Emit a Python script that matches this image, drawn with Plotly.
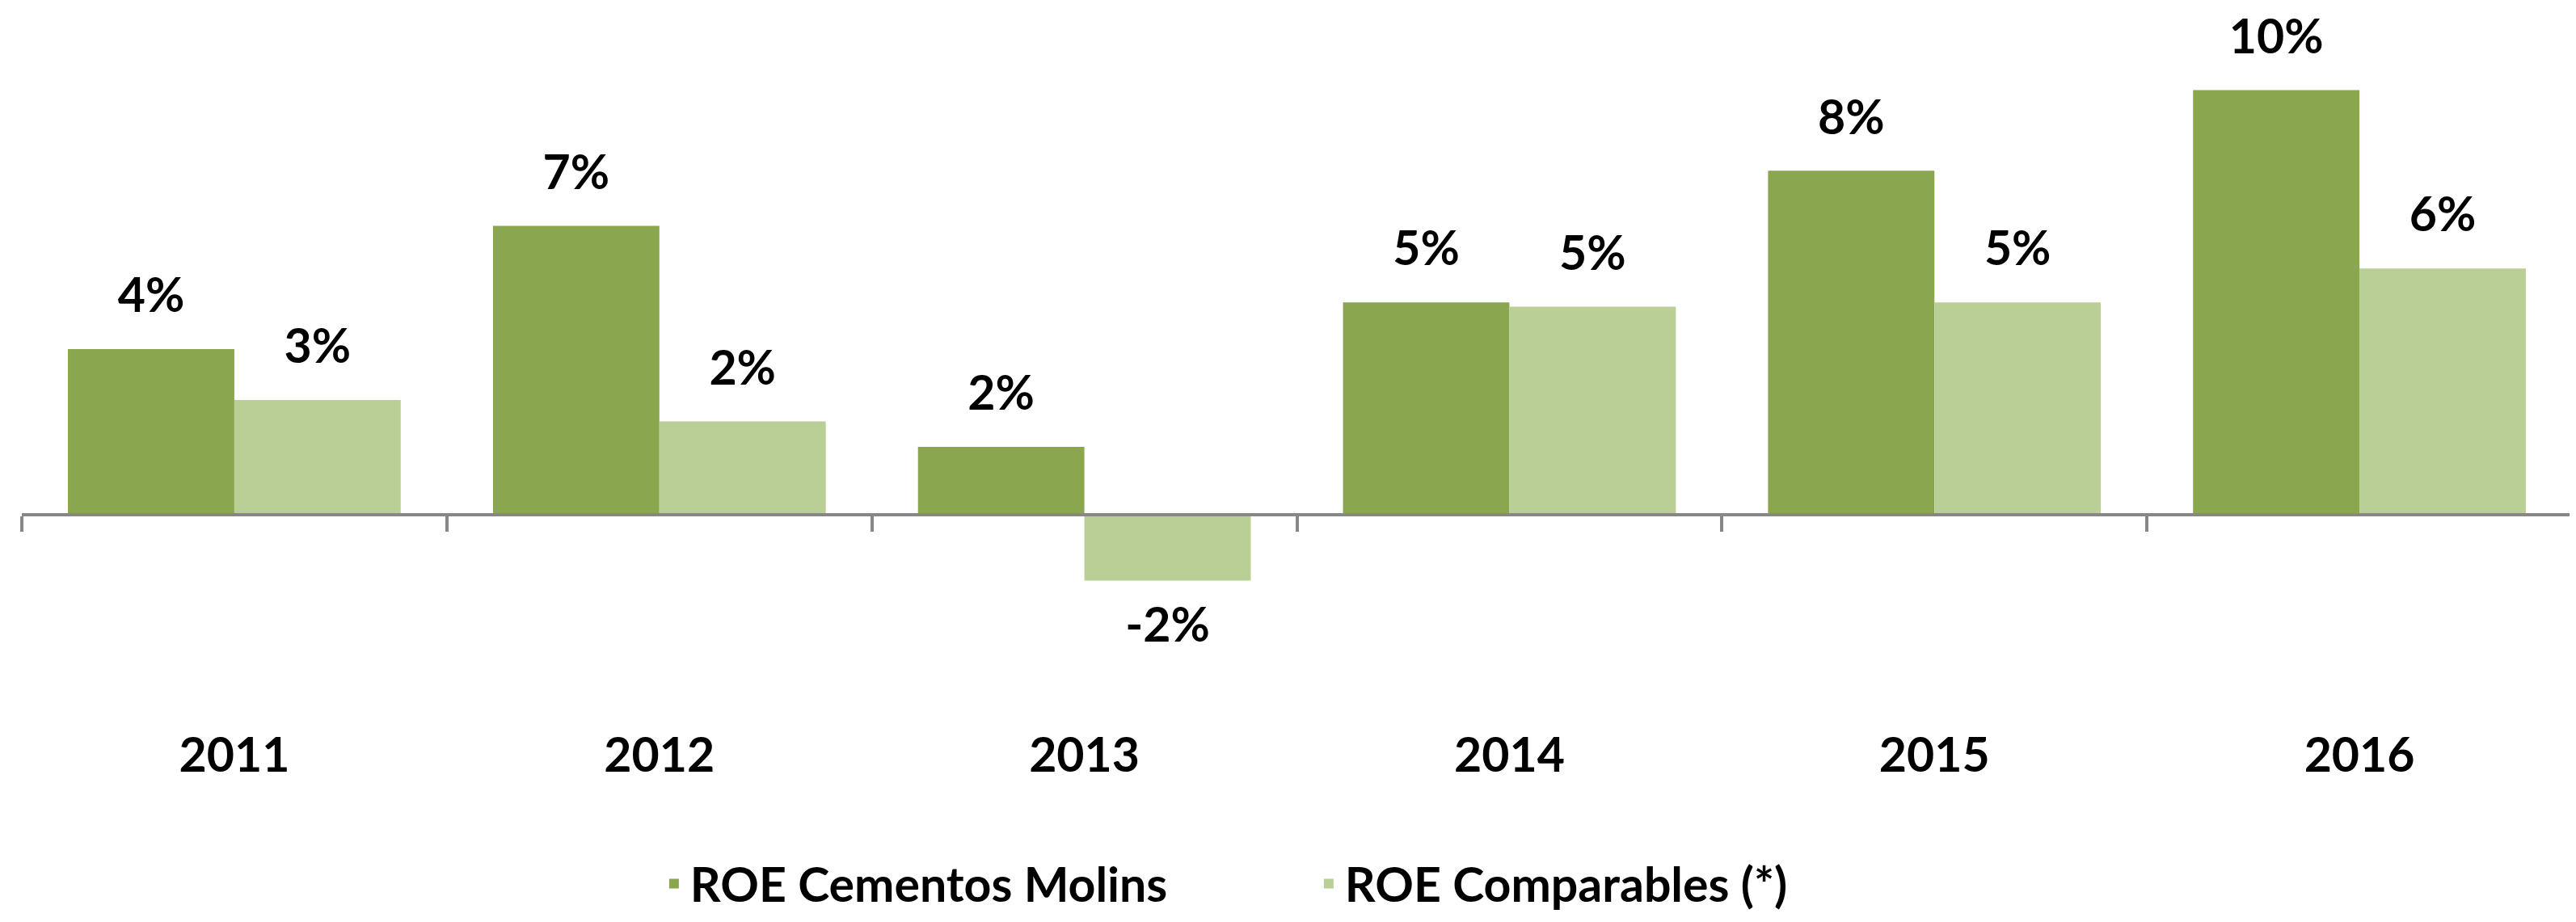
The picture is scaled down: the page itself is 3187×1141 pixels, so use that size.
import plotly.graph_objects as go

years = ["2011", "2012", "2013", "2014", "2015", "2016"]
roe_molins = [0.039, 0.068, 0.016, 0.050, 0.081, 0.100]
roe_comparables = [0.027, 0.022, -0.0155, 0.049, 0.050, 0.058]
series_names = ["ROE Cementos Molins", "ROE Comparables (*)"]
colors = ["#8AA64F", "#BACF96"]

FONT = "Lato"
FS = 59
fig = go.Figure()
for i, (name, vals) in enumerate(zip(series_names, [roe_molins, roe_comparables])):
    fig.add_trace(go.Bar(
        x=years, y=vals, name=name, marker=dict(color=colors[i], line=dict(width=0)),
        offsetgroup=str(i), hoverinfo="skip",
    ))
for i, vals in enumerate([roe_molins, roe_comparables]):
    fig.add_trace(go.Scatter(
        x=years, y=vals, mode="markers+text", showlegend=False, offsetgroup=str(i),
        marker=dict(size=48, color="rgba(0,0,0,0)"),
        text=[f"{round(v*100):.0f}%" for v in vals],
        textposition=["top center" if v >= 0 else "bottom center" for v in vals],
        textfont=dict(family=FONT, size=FS, color="black", weight="bold"),
        hoverinfo="skip", cliponaxis=False,
    ))

ymin, ymax = -0.04148, 0.11778
fig.update_layout(
    width=3187, height=1141,
    barmode="group", bargap=0.217, bargroupgap=0,
    scattermode="group", scattergap=0.217,
    paper_bgcolor="white", plot_bgcolor="white",
    margin=dict(l=19, r=13, t=10, b=271),
    font=dict(family=FONT, size=FS, color="black"),
    xaxis=dict(
        type="category", anchor="free", position=(0 - ymin) / (ymax - ymin),
        showline=True, linecolor="#878787", linewidth=4,
        ticks="outside", tickson="boundaries", ticklen=19, tickwidth=4, tickcolor="#878787",
        showgrid=False, zeroline=False,
        tickfont=dict(family=FONT, size=FS, color="black", weight="bold"),
        ticklabelstandoff=245,
    ),
    yaxis=dict(range=[ymin, ymax], visible=False, showgrid=False, zeroline=False),
    legend=dict(
        orientation="h", x=0.2494, xanchor="left", y=-0.285, yanchor="middle",
        font=dict(family=FONT, size=FS, color="black", weight="bold"),
        entrywidth=765, entrywidthmode="pixels", traceorder="normal",
    ),
    showlegend=True,
)

fig.write_html("out.html")
